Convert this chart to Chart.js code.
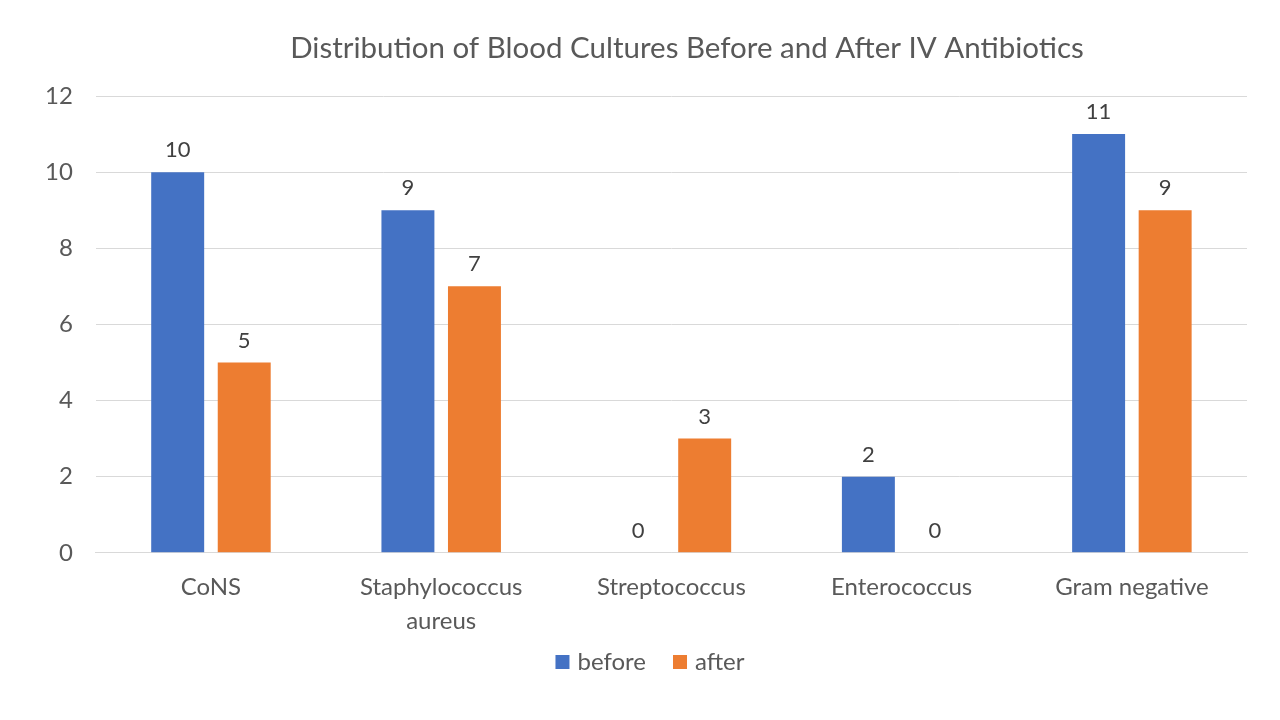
<!DOCTYPE html>
<html>
<head>
<meta charset="utf-8">
<script src="https://cdn.jsdelivr.net/npm/chart.js@4/dist/chart.umd.min.js"></script>
<style>
html,body{margin:0;padding:0;background:#fff;}
#wrap{width:1280px;height:720px;}
</style>
</head>
<body>
<div id="wrap"><canvas id="c" width="1280" height="720"></canvas></div>
<script>
const categories = ['CoNS', ['Staphylococcus','aureus'], 'Streptococcus', 'Enterococcus', 'Gram negative'];
const beforeValues = [10, 9, 0, 2, 11];
const afterValues = [5, 7, 3, 0, 9];
const yTicks = [0, 2, 4, 6, 8, 10, 12];
const chartTitle = 'Distribution of Blood Cultures Before and After IV Antibiotics';

const FONT = 'Lato, "Open Sans", sans-serif';

const labelPlugin = {
  id: 'barLabels',
  afterDatasetsDraw(chart) {
    const ctx = chart.ctx;
    ctx.save();
    ctx.font = '22px ' + FONT;
    ctx.fillStyle = '#404040';
    ctx.textAlign = 'center';
    ctx.textBaseline = 'middle';
    chart.data.datasets.forEach((ds, i) => {
      const meta = chart.getDatasetMeta(i);
      meta.data.forEach((bar, j) => {
        ctx.fillText(String(ds.data[j]), bar.x, bar.y - 22);
      });
    });
    ctx.restore();
  }
};

const titlePlugin = {
  id: 'offsetTitle',
  afterDraw(chart) {
    const ctx = chart.ctx;
    ctx.save();
    ctx.font = '29.5px ' + FONT;
    ctx.fillStyle = '#595959';
    ctx.textAlign = 'center';
    ctx.textBaseline = 'middle';
    ctx.fillText(chartTitle, 687, 48);
    ctx.restore();
  }
};

const legendPlugin = {
  id: 'customLegend',
  afterDraw(chart) {
    const ctx = chart.ctx;
    ctx.save();
    ctx.font = '24px ' + FONT;
    ctx.textBaseline = 'middle';
    ctx.textAlign = 'left';
    const box = 14, gapText = 8, gapItem = 27, cy = 662;
    const items = chart.data.datasets.map(ds => ({ text: ds.label, color: ds.backgroundColor, w: ctx.measureText(ds.label).width }));
    let total = 0;
    items.forEach((it, i) => { total += box + gapText + it.w + (i < items.length - 1 ? gapItem : 0); });
    let x = 650 - total / 2;
    items.forEach(it => {
      ctx.fillStyle = it.color;
      ctx.fillRect(x, cy - box / 2, box, box);
      x += box + gapText;
      ctx.fillStyle = '#595959';
      ctx.fillText(it.text, x, cy);
      x += it.w + gapItem;
    });
    ctx.restore();
  }
};

new Chart(document.getElementById('c'), {
  type: 'bar',
  data: {
    labels: categories,
    datasets: [
      { label: 'before', data: beforeValues, backgroundColor: '#4472C4' },
      { label: 'after', data: afterValues, backgroundColor: '#ED7D31' }
    ]
  },
  options: {
    responsive: false,
    animation: false,
    devicePixelRatio: 1,
    layout: { padding: { left: 22, right: 33, top: 96, bottom: 64 } },
    datasets: { bar: { categoryPercentage: 0.578, barPercentage: 0.796 } },
    plugins: {
      title: { display: false },
      legend: { display: false },
      tooltip: { enabled: false }
    },
    scales: {
      x: {
        grid: { display: false, drawTicks: false },
        border: { color: '#d9d9d9' },
        ticks: { color: '#595959', font: { family: FONT, size: 24, lineHeight: 1.4 }, padding: 18 }
      },
      y: {
        min: 0, max: 12,
        afterBuildTicks(axis) { axis.ticks = yTicks.map(v => ({ value: v })); },
        grid: { color: '#d9d9d9', drawTicks: false },
        border: { display: false },
        ticks: { color: '#595959', font: { family: FONT, size: 24 }, padding: 23 }
      }
    }
  },
  plugins: [labelPlugin, titlePlugin, legendPlugin]
});
</script>
</body>
</html>
